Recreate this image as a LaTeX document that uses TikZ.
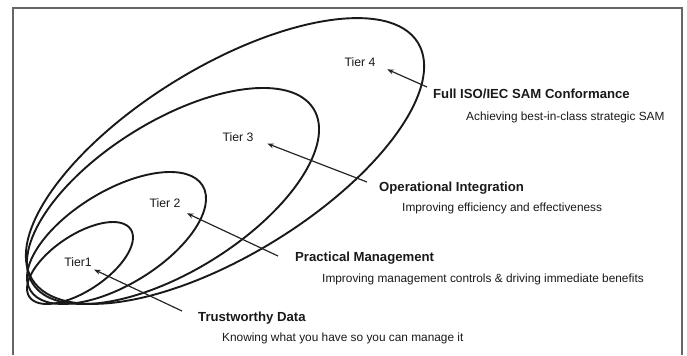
\documentclass[tikz,border=0pt]{standalone}
\usepackage{fontspec}
\setmainfont{Liberation Sans}
\usepackage{tikz}
\usetikzlibrary{arrows.meta}

\begin{document}
\begin{tikzpicture}[x=1bp,y=1bp]
\useasboundingbox (0,0) rectangle (687,355);
\tikzstyle{every node}=[inner sep=0pt, text=black!90];
\tikzstyle{tier}=[font=\fontsize{12.3}{14}\selectfont];
\tikzstyle{head}=[anchor=west, font=\fontsize{13.2}{15}\selectfont\bfseries];
\tikzstyle{sub}=[anchor=west, font=\fontsize{11.9}{14}\selectfont];
\tikzstyle{ring}=[line width=1.9bp, black!90];
\tikzstyle{pointer}=[line width=1.2bp, black!85, -{Stealth[length=6.5bp,width=5bp]}];

% frame, open at the bottom
\draw[line width=1.4bp, black!60] (13,0) -- (13,347) -- (682,347) -- (682,0);

% nested tiers, all sitting in the lower left corner
\draw[ring, rotate around={33.7:(80,92)}] (80,92) ellipse (60.9 and 27.9);
\draw[ring, rotate around={31.3:(116.5,117)}] (116.5,117) ellipse (100.8 and 47.0);
\draw[ring, rotate around={31.8:(173,159)}] (173,159) ellipse (165.4 and 75.1);
\draw[ring, rotate around={31.5:(225,194)}] (225,194) ellipse (226.3 and 94.1);

\node[tier] (t1) at (78,93) {Tier1};
\node[tier] (t2) at (165,152) {Tier 2};
\node[tier] (t3) at (238,218) {Tier 3};
\node[tier] (t4) at (360,293) {Tier 4};

\node[head] (h4) at (433,261) {Full ISO/IEC SAM Conformance};
\node[sub] (s4) at (466,238) {Achieving best-in-class strategic SAM};
\node[head] (h3) at (379,167) {Operational Integration};
\node[sub] (s3) at (402,147) {Improving efficiency and effectiveness};
\node[head] (h2) at (295,97) {Practical Management};
\node[sub] (s2) at (322,76) {Improving management controls \& driving immediate benefits};
\node[head] (h1) at (198,37) {Trustworthy Data};
\node[sub] (s1) at (222,17) {Knowing what you have so you can manage it};

% pointers from the captions back to the tiers
\coordinate (a4) at (427,268);
\coordinate (a3) at (367,173);
\coordinate (a2) at (278,99);
\coordinate (a1) at (182,44);
\draw[pointer, shorten >=29.8bp] (a4) -- (t4.north);
\draw[pointer, shorten >=31.4bp] (a3) -- (t3.north);
\draw[pointer, shorten >=24.2bp] (a2) -- (t2.center);
\draw[pointer, shorten >=17.8bp] (a1) -- (t1.center);
\end{tikzpicture}
\end{document}
